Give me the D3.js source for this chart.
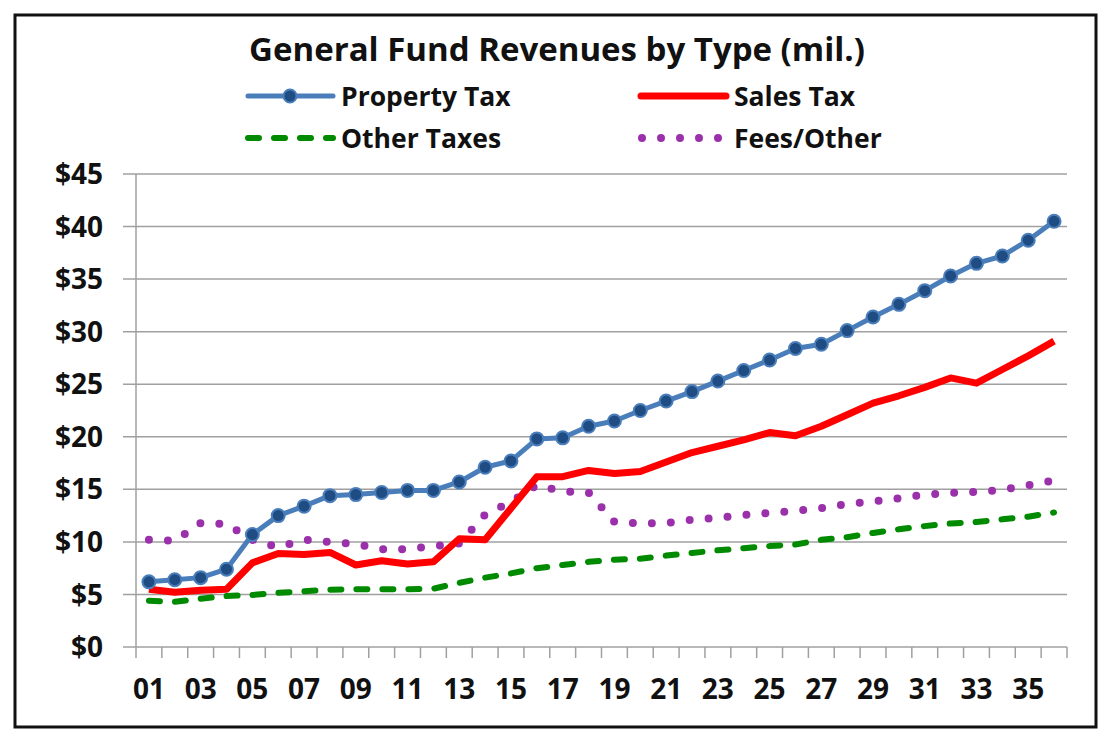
<!DOCTYPE html>
<html>
<head>
<meta charset="utf-8">
<style>
  body { margin: 0; background: #fff; }
  svg text { font-family: "Open Sans", Lato, sans-serif; font-weight: 700; fill: #111; }
</style>
</head>
<body>
<svg width="1116" height="736"></svg>
<script src="https://d3js.org/d3.v7.min.js"></script>
<script>

var categories = ["01","02","03","04","05","06","07","08","09","10","11","12",
                  "13","14","15","16","17","18","19","20","21","22","23","24",
                  "25","26","27","28","29","30","31","32","33","34","35","36"];

var propertyTax = [6.2, 6.4, 6.6, 7.4, 10.7, 12.5, 13.4, 14.4, 14.5, 14.7, 14.9, 14.9,
                   15.7, 17.1, 17.7, 19.8, 19.9, 21.0, 21.5, 22.5, 23.4, 24.3, 25.3, 26.3,
                   27.3, 28.4, 28.8, 30.1, 31.4, 32.6, 33.9, 35.3, 36.5, 37.2, 38.7, 40.5];

var salesTax = [5.5, 5.2, 5.4, 5.5, 8.0, 8.9, 8.8, 9.0, 7.8, 8.2, 7.9, 8.1,
                10.3, 10.2, 13.2, 16.2, 16.2, 16.8, 16.5, 16.7, 17.6, 18.5, 19.1, 19.7,
                20.4, 20.1, 21.0, 22.1, 23.2, 23.9, 24.7, 25.6, 25.1, 26.4, 27.7, 29.1];

var otherTaxes = [4.4, 4.3, 4.6, 4.85, 4.95, 5.15, 5.3, 5.45, 5.5, 5.5, 5.5, 5.55,
                  6.1, 6.6, 7.0, 7.5, 7.8, 8.1, 8.3, 8.4, 8.7, 8.95, 9.2, 9.4,
                  9.6, 9.75, 10.2, 10.45, 10.85, 11.2, 11.5, 11.75, 11.9, 12.15, 12.4, 12.8];

var feesOther = [10.2, 10.1, 11.8, 11.7, 10.2, 9.5, 10.2, 10.0, 9.8, 9.3, 9.3, 9.6,
                 9.85, 12.6, 13.8, 15.4, 14.8, 14.7, 11.9, 11.75, 11.8, 12.1, 12.3, 12.55,
                 12.75, 12.95, 13.2, 13.6, 13.85, 14.15, 14.5, 14.65, 14.75, 14.95, 15.4, 15.85];

var yTicks = [0, 5, 10, 15, 20, 25, 30, 35, 40, 45];

var svg = d3.select("svg");

// chart frame
svg.append("rect")
    .attr("x", 15).attr("y", 15)
    .attr("width", 1081).attr("height", 712)
    .attr("fill", "#fff")
    .attr("stroke", "#111")
    .attr("stroke-width", 3);

var plotL = 136, plotR = 1067, plotT = 174, plotB = 647;

var x = d3.scaleBand().domain(categories).range([plotL, plotR]).padding(0);
var y = d3.scaleLinear().domain([0, 45]).range([plotB, plotT]);
var cx = function(i) { return x(categories[i]) + x.bandwidth() / 2; };

// gridlines
svg.append("g")
    .selectAll("line")
    .data(yTicks)
    .join("line")
    .attr("x1", plotL - 13).attr("x2", plotR)
    .attr("y1", function(d) { return y(d); })
    .attr("y2", function(d) { return y(d); })
    .attr("stroke", "#a0a0a0")
    .attr("stroke-width", 1.5);

// y axis line
svg.append("line")
    .attr("x1", plotL).attr("x2", plotL)
    .attr("y1", plotT).attr("y2", plotB)
    .attr("stroke", "#a0a0a0").attr("stroke-width", 1.5);

// y labels
svg.append("g")
    .selectAll("text")
    .data(yTicks)
    .join("text")
    .attr("x", 103)
    .attr("y", function(d) { return y(d); })
    .attr("dy", "0.36em")
    .attr("text-anchor", "end")
    .style("font-size", "28px")
    .text(function(d) { return "$" + d; });

// x ticks at category boundaries
var bounds = categories.map(function(c) { return x(c); }).concat([plotR]);
svg.append("g")
    .selectAll("line")
    .data(bounds)
    .join("line")
    .attr("x1", function(d) { return d; })
    .attr("x2", function(d) { return d; })
    .attr("y1", plotB).attr("y2", plotB + 11)
    .attr("stroke", "#a0a0a0").attr("stroke-width", 1.5);

// x labels, every other category
svg.append("g")
    .selectAll("text")
    .data(categories.filter(function(c, i) { return i % 2 === 0; }))
    .join("text")
    .attr("x", function(d) { return x(d) + x.bandwidth() / 2; })
    .attr("y", 699)
    .attr("text-anchor", "middle")
    .style("font-size", "28px")
    .text(function(d) { return d; });

var line = d3.line()
    .x(function(d, i) { return cx(i); })
    .y(function(d) { return y(d); });

svg.append("path").datum(otherTaxes)
    .attr("d", line)
    .attr("fill", "none")
    .attr("stroke", "#008a00")
    .attr("stroke-width", 6)
    .attr("stroke-linecap", "round")
    .attr("stroke-dasharray", "11,15");

svg.append("path").datum(feesOther)
    .attr("d", line)
    .attr("fill", "none")
    .attr("stroke", "#9b30ab")
    .attr("stroke-width", 8)
    .attr("stroke-linecap", "round")
    .attr("stroke-dasharray", "0,19");

svg.append("path").datum(salesTax)
    .attr("d", line)
    .attr("fill", "none")
    .attr("stroke", "#ff0000")
    .attr("stroke-width", 7)
    .attr("stroke-linejoin", "round");

svg.append("path").datum(propertyTax)
    .attr("d", line)
    .attr("fill", "none")
    .attr("stroke", "#4a7ebb")
    .attr("stroke-width", 5)
    .attr("stroke-linejoin", "round");

svg.append("g")
    .selectAll("circle")
    .data(propertyTax)
    .join("circle")
    .attr("cx", function(d, i) { return cx(i); })
    .attr("cy", function(d) { return y(d); })
    .attr("r", 6.5)
    .attr("fill", "#1f4c82")
    .attr("stroke", "#4a7ebb")
    .attr("stroke-width", 2);

// title
svg.append("text")
    .attr("x", 557).attr("y", 61)
    .attr("text-anchor", "middle")
    .style("font-size", "33px")
    .text("General Fund Revenues by Type (mil.)");

// legend
var legend = [
  {name: "Property Tax", x: 245, y: 96,  color: "#4a7ebb", w: 5, dash: null, marker: true},
  {name: "Sales Tax",    x: 638, y: 96,  color: "#ff0000", w: 7, dash: null},
  {name: "Other Taxes",  x: 245, y: 138, color: "#008a00", w: 6, dash: "11,15"},
  {name: "Fees/Other",   x: 638, y: 138, color: "#9b30ab", w: 8, dash: "0,19"}
];

var lg = svg.append("g").selectAll("g").data(legend).join("g");

lg.append("line")
    .attr("x1", function(d) { return d.dash === "0,19" ? d.x + 4 : d.x + 3; })
    .attr("x2", function(d) { return d.x + 88; })
    .attr("y1", function(d) { return d.y; })
    .attr("y2", function(d) { return d.y; })
    .attr("stroke", function(d) { return d.color; })
    .attr("stroke-width", function(d) { return d.w; })
    .attr("stroke-linecap", "round")
    .attr("stroke-dasharray", function(d) { return d.dash; });

lg.filter(function(d) { return d.marker; })
    .append("circle")
    .attr("cx", function(d) { return d.x + 45; })
    .attr("cy", function(d) { return d.y; })
    .attr("r", 6.5)
    .attr("fill", "#1f4c82")
    .attr("stroke", "#4a7ebb")
    .attr("stroke-width", 2);

lg.append("text")
    .attr("x", function(d) { return d.x + 96; })
    .attr("y", function(d) { return d.y + 10; })
    .style("font-size", "26.5px")
    .text(function(d) { return d.name; });

</script>
</body>
</html>
